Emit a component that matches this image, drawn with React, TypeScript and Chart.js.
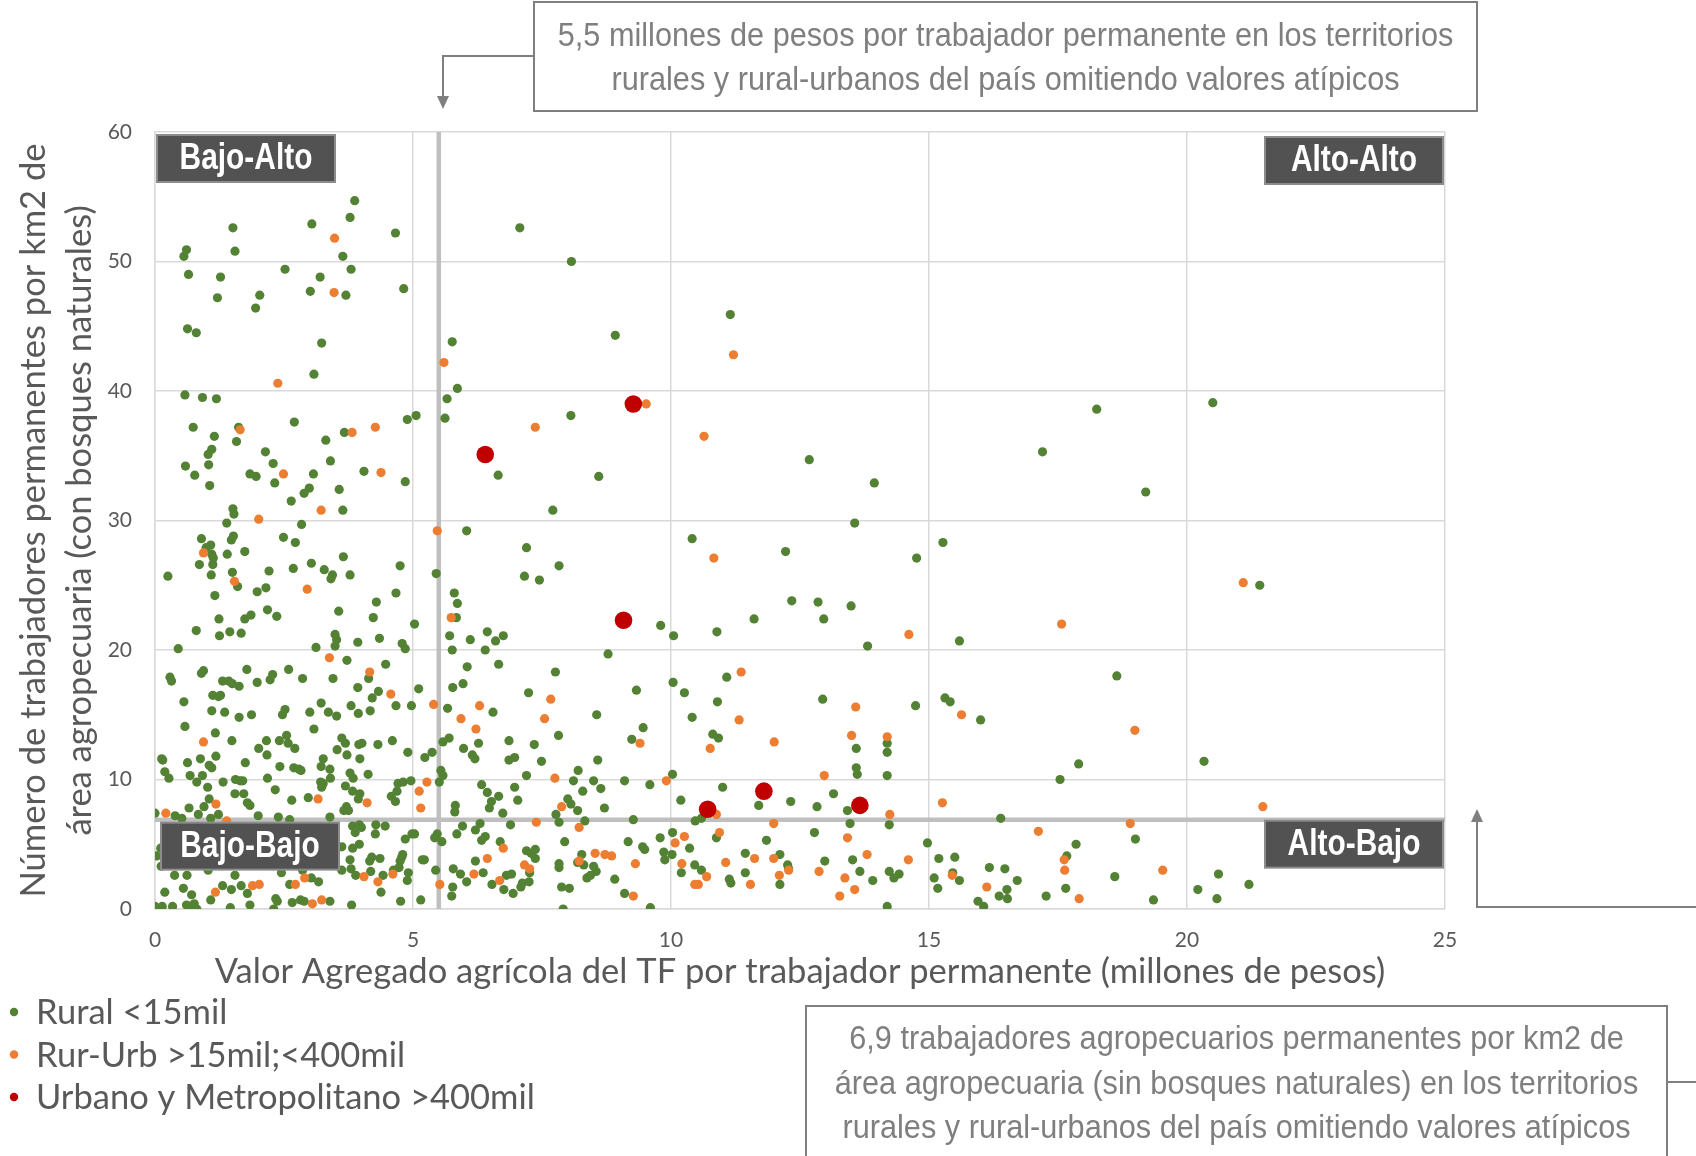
import React, { useEffect, useRef } from 'react';
import { Chart, registerables } from 'chart.js';

Chart.register(...registerables);

// ---------------- DATA ----------------
const seriesLabels = ['Rural <15mil', 'Rur-Urb >15mil;<400mil', 'Urbano y Metropolitano >400mil'];
const seriesColors = ['#548235', '#ED7D31', '#C00000'];

const xTitle = 'Valor Agregado agrícola del TF por trabajador permanente (millones de pesos)';
const yTitle = ['Número de trabajadores permanentes por km2 de', 'área agropecuaria (con bosques naturales)'];

const xMin = 0, xMax = 25, xStep = 5;
const yMin = 0, yMax = 60, yStep = 10;

const thresholdX = 5.5;
const thresholdY = 6.9;

const quadrantLabels = ['Bajo-Alto', 'Alto-Alto', 'Bajo-Bajo', 'Alto-Bajo'];

const noteTop = [
  '5,5 millones de pesos por trabajador permanente en los territorios',
  'rurales y rural-urbanos del país omitiendo valores atípicos',
];
const noteBottom = [
  '6,9 trabajadores agropecuarios permanentes por km2 de',
  'área agropecuaria (sin bosques naturales) en los territorios',
  'rurales y rural-urbanos del país omitiendo valores atípicos',
];

const ruralPoints: [number, number][] = [
  [3.87,54.7],[3.78,53.4],[1.51,52.6],[3.04,52.9],[4.66,52.2],[0.61,50.9],[0.56,50.4],[1.55,50.8],[3.64,50.4],[0.65,49.0],
  [1.27,48.8],[2.52,49.4],[3.20,48.8],[3.80,49.4],[3.01,47.7],[3.70,47.4],[1.21,47.2],[2.03,47.4],[1.95,46.4],[4.82,47.9],
  [0.63,44.8],[0.80,44.5],[3.23,43.7],[3.08,41.3],[0.58,39.7],[0.92,39.5],[1.19,39.4],[0.74,37.2],[1.15,36.5],[1.58,36.1],
  [1.62,37.2],[1.10,35.5],[1.03,35.1],[1.04,34.3],[0.59,34.2],[0.77,33.5],[1.06,32.7],[2.14,35.3],[2.29,34.4],[1.84,33.6],
  [1.96,33.4],[2.32,32.9],[2.70,37.6],[3.31,36.2],[3.67,36.8],[3.40,34.6],[3.07,33.6],[2.99,32.5],[2.89,32.1],[3.57,32.4],
  [2.64,31.5],[4.05,33.8],[4.85,33.0],[4.89,37.8],[5.06,38.1],[3.64,30.8],[1.51,30.9],[1.53,30.5],[1.39,29.8],[2.84,29.7],
  [5.76,43.8],[5.86,40.2],[5.66,39.4],[5.62,37.9],[7.07,52.6],[8.07,50.0],[8.92,44.3],[8.06,38.1],[6.65,33.5],[8.60,33.4],
  [7.71,30.8],
  [11.15,45.9],[12.68,34.7],[13.94,32.9],[17.2,35.3],[18.25,38.6],[19.2,32.2],[20.5,39.1],
  [13.56,29.8],[10.41,28.6],[12.22,27.6],[15.27,28.3],[14.76,27.1],[12.34,23.8],[12.85,23.7],[13.49,23.4],[11.61,22.4],[12.96,22.4],
  [10.89,21.4],[13.81,20.3],[15.59,20.7],[21.41,25.0],[11.08,17.9],[10.90,16.0],[10.41,14.8],[12.94,16.2],[14.74,15.7],[15.31,16.3],
  [15.41,16.0],[16.0,14.6],[18.64,18.0],[10.81,13.5],[10.92,13.2],[13.59,12.4],[14.19,12.8],[14.19,12.1],[13.59,10.9],[13.61,10.4],
  [14.19,10.3],[17.9,11.2],[17.54,10.0],[20.33,11.4],[11.0,9.4],[12.32,8.3],[13.15,8.9],[11.7,8.0],[12.83,7.9],[13.42,7.6],
  [10.47,6.8],[10.59,7.0],[13.47,6.6],[14.23,6.5],[16.39,7.0],[10.88,5.5],[11.85,5.3],[12.78,5.9],[14.97,5.1],[19.0,5.4],
  [17.85,5.0],[10.36,4.7],[11.44,4.3],[12.11,4.2],[13.52,3.8],[12.98,3.7],[12.26,3.4],[12.28,3.1],[15.19,3.9],[15.5,4.0],
  [17.67,4.1],[10.46,3.4],[10.59,3.0],[11.44,2.8],[11.13,2.3],[11.16,2.0],[12.11,1.9],[13.66,2.9],[13.91,2.2],[14.23,2.9],
  [14.32,2.4],[14.42,2.7],[15.1,2.4],[15.46,2.8],[15.59,2.2],[16.17,3.2],[16.47,3.1],[16.71,2.2],[16.51,1.5],[16.36,1.0],
  [16.52,0.8],[15.95,0.6],[16.06,0.2],[15.17,1.6],[17.27,1.0],[17.65,1.6],[18.6,2.5],[19.35,0.7],[20.61,2.7],[20.21,1.5],
  [20.58,0.8],[21.2,1.9],[14.19,0.2],
  [6.04,29.2],[7.20,27.9],[7.83,26.5],[7.16,25.7],[7.45,25.4],[5.45,25.9],[5.80,24.4],[5.86,23.6],[5.84,22.5],[5.03,22.0],
  [5.71,21.1],[6.11,20.8],[6.44,21.4],[6.60,20.7],[6.75,21.1],[5.76,20.0],[6.40,20.0],[6.05,18.7],[6.66,18.9],[7.76,18.3],
  [8.78,19.7],[9.80,21.9],[10.05,21.1],[5.11,17.0],[5.77,17.1],[5.97,17.4],[7.24,16.7],[9.33,16.9],[10.04,17.5],[10.26,16.7],
  [5.67,15.5],[6.55,15.2],[8.56,15.0],
  [9.46,14.0],[9.24,13.1],[7.82,13.4],[7.35,12.7],[6.86,13.0],[6.27,12.8],[5.98,12.4],[5.58,12.9],[5.70,13.2],[5.37,12.1],
  [5.23,11.7],[6.15,11.9],[6.20,11.6],[6.86,11.5],[6.97,11.7],[7.49,11.4],[8.58,11.5],[8.20,10.7],[7.20,10.3],[5.54,10.7],
  [5.58,10.3],[5.51,9.8],[6.33,9.6],[6.44,9.0],[6.66,8.7],[6.97,9.4],[7.03,8.4],[6.52,8.3],[6.48,7.8],[5.82,8.0],
  [5.81,7.5],[6.74,7.4],[6.89,6.5],[6.30,6.6],[5.96,6.4],[6.21,6.1],[5.85,5.8],[5.47,5.8],[5.42,5.5],[5.56,5.2],
  [5.03,5.8],[6.40,5.6],[6.33,5.3],[6.69,5.2],[5.22,3.8],[5.44,3.0],[5.78,3.1],[5.92,2.7],[6.04,2.1],[6.21,3.7],
  [6.36,2.8],[6.53,1.9],[5.77,1.7],[5.75,1.0],[5.15,0.7],[6.76,1.5],[6.94,1.2],[6.81,2.6],[6.91,2.7],[7.09,1.7],
  [7.12,2.0],[7.25,2.1],[7.20,4.5],[7.29,4.3],[7.37,4.6],[7.37,3.9],[7.26,2.8],[7.77,7.3],[7.83,6.7],[8.00,8.5],
  [8.06,8.1],[8.19,7.6],[8.29,9.1],[8.11,9.9],[8.50,9.9],[8.64,9.3],[8.71,7.8],[8.33,6.8],[9.10,9.9],[9.59,9.6],
  [9.27,6.9],[10.03,10.4],[10.19,8.4],[7.94,5.2],[7.83,3.5],[7.83,3.2],[8.27,4.2],[8.19,3.6],[8.31,3.4],[8.50,3.3],
  [8.55,2.9],[8.44,2.6],[8.37,2.4],[8.91,2.3],[9.17,5.2],[9.45,4.8],[9.49,4.6],[9.79,5.5],[10.03,5.9],[9.86,4.4],
  [9.88,3.8],[10.02,4.2],[10.20,2.8],[7.88,1.7],[8.03,1.6],[7.91,0.0],[9.10,1.2],[9.60,0.1],
  [0.90,28.6],[1.52,28.8],[1.48,28.5],[2.49,28.7],[2.72,28.3],[1.08,28.1],[0.99,27.9],[1.10,27.4],[1.13,27.1],[1.40,27.4],
  [1.74,27.6],[0.86,26.6],[1.12,26.6],[1.09,25.8],[1.50,26.0],[1.60,24.9],[0.25,25.7],[1.16,24.2],[2.21,26.1],[2.68,26.3],
  [3.03,26.7],[3.28,26.2],[3.44,25.8],[3.41,25.5],[3.65,27.2],[3.78,25.8],[4.75,26.5],[4.67,24.4],[1.98,24.5],[2.15,24.8],
  [4.29,23.7],[3.56,23.0],[4.23,22.5],[2.18,23.1],[2.36,22.6],[1.86,22.7],[1.74,22.4],[1.24,22.4],[0.80,21.5],[1.25,21.1],
  [1.45,21.4],[1.67,21.3],[0.45,20.1],[3.12,20.2],[3.49,21.2],[3.52,20.8],[3.49,20.3],[3.93,20.6],[4.35,20.9],[4.79,20.5],
  [4.85,20.1],[3.72,19.2],[4.47,18.9],[0.29,17.9],[0.32,17.6],[0.90,18.2],[0.94,18.4],[1.78,18.5],[1.31,17.6],[1.43,17.6],
  [1.50,17.4],[1.63,17.2],[1.98,17.5],[2.23,17.7],[2.28,18.1],[2.59,18.5],[2.86,17.8],[3.45,17.8],[4.14,17.8],[3.93,17.1],
  [4.33,16.8],[4.21,16.3],[0.56,16.0],[1.12,16.5],[1.23,16.4],[1.27,16.5],[1.10,15.3],[1.35,15.2],[1.63,14.8],[1.87,15.0],
  [2.52,15.4],[2.47,15.0],[3.00,15.2],[3.22,15.9],[3.36,15.2],[3.52,14.9],[3.80,15.7],[3.94,15.1],[4.17,15.3],[4.67,15.7],
  [4.97,15.7],
  [0.58,14.1],[1.17,13.6],[1.49,13.0],[2.01,12.4],[2.16,13.0],[2.17,11.9],[2.41,13.0],[2.55,13.4],[2.58,12.8],[2.71,12.4],
  [3.08,13.9],[3.62,13.2],[3.69,12.8],[3.95,12.7],[4.01,12.8],[4.32,12.7],[4.60,13.0],[4.90,12.1],[3.53,12.3],[3.72,11.9],
  [3.97,11.6],[3.26,11.6],[4.13,10.4],[3.78,10.5],[3.84,10.1],[3.22,11.0],[3.39,10.8],[3.40,10.1],[2.69,10.9],[2.79,10.8],
  [2.83,10.7],[2.42,11.0],[1.75,11.3],[1.05,11.1],[1.10,10.9],[0.88,11.6],[0.63,11.3],[0.13,11.6],[0.15,11.5],[0.19,10.6],
  [0.27,10.1],[0.68,10.3],[0.81,9.8],[0.92,10.3],[1.18,11.8],[1.32,9.8],[1.56,10.0],[1.65,9.9],[1.70,9.9],[1.02,9.4],
  [1.55,8.9],[1.72,8.9],[1.05,8.5],[1.79,8.2],[1.84,8.0],[0.66,7.8],[0.95,7.9],[0.84,7.3],[0.00,7.4],[0.39,7.2],
  [0.52,7.0],[1.23,7.3],[1.08,7.0],[2.00,7.2],[2.39,7.1],[2.18,10.1],[2.33,9.2],[2.65,8.4],[2.97,8.6],[3.21,9.8],
  [3.23,9.4],[3.26,9.7],[3.39,7.1],[3.69,9.5],[3.83,9.1],[3.97,8.9],[3.94,8.5],[3.71,7.9],[3.75,7.6],[3.66,7.6],
  [4.58,8.7],[4.66,8.3],[4.71,9.7],[4.81,9.8],[4.69,9.1],[4.96,9.9],[2.61,6.9],
  [3.83,6.4],[3.88,5.9],[3.96,6.5],[4.00,6.3],[4.28,6.5],[4.27,5.8],[4.46,6.4],[4.85,5.4],[4.98,5.8],[3.96,5.0],
  [3.83,4.7],[3.62,4.8],[3.78,3.8],[3.80,3.1],[3.62,3.0],[3.89,2.6],[4.20,4.0],[4.16,3.7],[4.36,3.9],[4.18,2.9],
  [4.42,2.6],[4.38,1.3],[4.78,4.0],[4.80,4.2],[4.75,3.7],[4.62,3.0],[4.73,3.2],[4.91,2.8],[4.89,2.2],[5.18,3.8],
  [4.76,0.6],[3.81,0.3],[3.39,0.6],[3.03,2.4],[2.86,3.0],[3.17,2.1],[2.45,2.8],[2.61,1.9],[2.34,0.8],[2.37,0.6],
  [2.66,0.5],[2.82,0.7],[2.89,0.6],[2.30,0.0],[1.84,0.3],[1.79,1.2],[1.67,1.8],[1.48,1.5],[1.31,1.8],[1.55,2.6],
  [1.46,0.1],[1.08,0.7],[1.03,3.0],[0.62,2.6],[0.38,2.6],[0.71,1.1],[0.55,1.6],[0.19,1.3],[0.00,0.2],[0.14,0.2],
  [0.34,0.2],[0.61,0.3],[0.68,0.2],[0.76,0.4],[0.81,0.0],[0.12,3.3],[0.03,4.1],[0.11,4.7],
];

const rurUrbPoints: [number, number][] = [
  [3.48,51.8],[3.47,47.6],[2.38,40.6],[1.65,37.0],[3.82,36.8],[4.27,37.2],[2.49,33.6],[4.38,33.7],[3.22,30.8],[2.01,30.1],
  [5.60,42.2],[7.37,37.2],[9.52,39.0],[10.64,36.5],[11.21,42.8],[10.83,27.1],
  [21.09,25.2],[17.57,22.0],[14.61,21.2],[11.36,18.3],[13.58,15.6],[15.63,15.0],[11.32,14.6],[18.99,13.8],[13.5,13.4],[14.19,13.3],
  [10.76,12.4],[12.0,12.9],[12.97,10.3],[15.26,8.2],[21.47,7.9],[10.88,7.3],[14.24,7.3],[11.99,6.6],[18.9,6.6],[10.94,5.9],
  [13.42,5.5],[17.12,6.0],[13.8,4.2],[11.62,3.9],[11.99,3.9],[11.06,3.6],[14.6,3.8],[17.62,3.8],[12.28,3.0],[12.1,2.6],
  [12.87,2.9],[17.63,3.0],[19.53,3.0],[10.69,2.5],[10.53,1.9],[11.54,1.9],[13.37,2.4],[13.56,1.5],[13.27,1.0],[15.45,2.6],
  [16.12,1.7],[17.91,0.8],
  [5.47,29.2],[5.74,22.5],[7.67,16.2],[5.40,15.8],[6.29,15.7],[5.93,14.7],[7.55,14.7],
  [6.22,13.9],[9.40,12.8],[5.27,9.8],[5.12,9.1],[5.15,7.8],[7.75,10.1],[9.91,9.9],[7.88,7.9],[7.39,6.7],[8.22,6.3],
  [6.75,4.7],[6.44,3.9],[6.18,2.7],[6.68,2.2],[7.16,3.4],[7.26,3.1],[8.22,3.7],[8.53,4.3],[8.72,4.2],[8.85,4.1],
  [9.31,3.5],[10.08,5.1],[10.26,5.6],[10.21,3.5],[5.52,1.9],[9.27,1.0],[10.46,1.9],
  [0.94,27.5],[1.54,25.3],[2.95,24.7],[3.38,19.4],[4.16,18.3],[4.57,16.6],
  [0.94,12.9],[1.18,8.1],[0.21,7.4],[1.39,6.8],[3.16,8.5],[4.11,8.2],[2.90,2.4],[2.72,1.9],[3.05,0.4],[3.23,0.7],
  [4.05,2.5],[4.32,2.1],[4.61,2.7],[1.17,1.3],[1.89,1.8],[2.02,1.9],
];

const urbanPoints: [number, number][] = [
  [6.40,35.1],[9.27,39.0],[9.08,22.3],[10.71,7.7],[11.8,9.1],[13.66,8.0],
];

// ---------------- HELPERS ----------------
const toXY = (pts: [number, number][]) => pts.map(([x, y]) => ({ x, y }));

function condensedText(ctx: CanvasRenderingContext2D, text: string, cx: number, cy: number, font: string, sx: number, color: string) {
  ctx.save();
  ctx.font = font;
  ctx.fillStyle = color;
  ctx.textAlign = 'center';
  ctx.textBaseline = 'middle';
  ctx.translate(cx, cy);
  ctx.scale(sx, 1);
  ctx.fillText(text, 0, 0);
  ctx.restore();
}

function arrowHead(ctx: CanvasRenderingContext2D, tipX: number, tipY: number, dir: 'up' | 'down', color: string) {
  ctx.save();
  ctx.fillStyle = color;
  ctx.beginPath();
  const len = 13, half = 6;
  if (dir === 'down') {
    ctx.moveTo(tipX, tipY);
    ctx.lineTo(tipX - half, tipY - len);
    ctx.lineTo(tipX + half, tipY - len);
  } else {
    ctx.moveTo(tipX, tipY);
    ctx.lineTo(tipX - half, tipY + len);
    ctx.lineTo(tipX + half, tipY + len);
  }
  ctx.closePath();
  ctx.fill();
  ctx.restore();
}

const NOTE_FONT = '33px "Liberation Sans", Arial, sans-serif';
const NOTE_SX = 0.93;

const overlayPlugin = {
  id: 'overlays',
  beforeDatasetsDraw(chart: any) {
    const { ctx, chartArea: ca, scales } = chart;
    const px = scales.x.getPixelForValue(thresholdX);
    const py = scales.y.getPixelForValue(thresholdY);
    ctx.save();
    ctx.strokeStyle = '#BFBFBF';
    ctx.lineWidth = 4.5;
    ctx.beginPath();
    ctx.moveTo(px, ca.top);
    ctx.lineTo(px, ca.bottom);
    ctx.moveTo(ca.left, py);
    ctx.lineTo(ca.right, py);
    ctx.stroke();
    ctx.restore();
  },
  afterDatasetsDraw(chart: any) {
    const { ctx, chartArea: ca, scales } = chart;
    const py = scales.y.getPixelForValue(thresholdY);
    const w = 178, h = 47;
    const boxes = [
      { label: quadrantLabels[0], x: ca.left + 2, y: ca.top + 3 },
      { label: quadrantLabels[1], x: ca.right - 2 - w, y: ca.top + 5 },
      { label: quadrantLabels[2], x: ca.left + 6, y: py + 3 },
      { label: quadrantLabels[3], x: ca.right - 2 - w, y: py + 1 },
    ];
    boxes.forEach((b) => {
      ctx.save();
      ctx.fillStyle = '#525252';
      ctx.fillRect(b.x, b.y, w, h);
      ctx.strokeStyle = '#8C8C8C';
      ctx.lineWidth = 2;
      ctx.strokeRect(b.x, b.y, w, h);
      ctx.restore();
      condensedText(ctx, b.label, b.x + w / 2, b.y + h / 2 + 1, 'bold 36px "Liberation Sans", Arial, sans-serif', 0.83, '#FFFFFF');
    });
  },
  afterDraw(chart: any) {
    const { ctx } = chart;
    const grey = '#7F7F7F';
    // top note box
    ctx.save();
    ctx.fillStyle = '#FFFFFF';
    ctx.fillRect(534, 2, 943, 109);
    ctx.strokeStyle = grey;
    ctx.lineWidth = 2;
    ctx.strokeRect(534, 2, 943, 109);
    ctx.beginPath();
    ctx.moveTo(534, 56);
    ctx.lineTo(443, 56);
    ctx.lineTo(443, 98);
    ctx.stroke();
    ctx.restore();
    arrowHead(ctx, 443, 109, 'down', grey);
    noteTop.forEach((t, i) => condensedText(ctx, t, 1005.5, 37 + i * 44, NOTE_FONT, NOTE_SX, grey));

    // bottom note box
    ctx.save();
    ctx.fillStyle = '#FFFFFF';
    ctx.fillRect(806, 1006, 861, 170);
    ctx.strokeStyle = grey;
    ctx.lineWidth = 2;
    ctx.strokeRect(806, 1006, 861, 170);
    ctx.beginPath();
    ctx.moveTo(1667, 1082);
    ctx.lineTo(1696, 1082);
    ctx.moveTo(1696, 907);
    ctx.lineTo(1477, 907);
    ctx.lineTo(1477, 821);
    ctx.stroke();
    ctx.restore();
    arrowHead(ctx, 1477, 809, 'up', grey);
    noteBottom.forEach((t, i) => condensedText(ctx, t, 1236.5, 1040 + i * 44.5, NOTE_FONT, NOTE_SX, grey));

    // legend
    chart.data.datasets.forEach((ds: any, i: number) => {
      const y = 1012 + i * 42.5;
      ctx.save();
      ctx.fillStyle = ds.backgroundColor;
      ctx.beginPath();
      ctx.arc(14, y, 4.2, 0, Math.PI * 2);
      ctx.fill();
      ctx.font = '34.5px Lato, sans-serif';
      ctx.fillStyle = '#595959';
      ctx.textAlign = 'left';
      ctx.textBaseline = 'middle';
      ctx.fillText(ds.label, 36, y + 1);
      ctx.restore();
    });
  },
};

export default function App() {
  const canvasRef = useRef<HTMLCanvasElement | null>(null);

  useEffect(() => {
    document.body.style.margin = '0';
    const canvas = canvasRef.current;
    if (!canvas) return;
    const chart = new Chart(canvas, {
      type: 'scatter',
      data: {
        datasets: [
          { label: seriesLabels[0], data: toXY(ruralPoints), backgroundColor: seriesColors[0], borderWidth: 0, pointRadius: 4.6, pointHoverRadius: 4.6, order: 3 },
          { label: seriesLabels[1], data: toXY(rurUrbPoints), backgroundColor: seriesColors[1], borderWidth: 0, pointRadius: 4.6, pointHoverRadius: 4.6, order: 2 },
          { label: seriesLabels[2], data: toXY(urbanPoints), backgroundColor: seriesColors[2], borderWidth: 0, pointRadius: 8.8, pointHoverRadius: 8.8, order: 1 },
        ],
      },
      options: {
        animation: false,
        responsive: false,
        devicePixelRatio: 1,
        events: [],
        layout: { padding: { left: 0, right: 251, top: 132, bottom: 163 } },
        plugins: { legend: { display: false }, tooltip: { enabled: false } },
        scales: {
          x: {
            type: 'linear',
            min: xMin,
            max: xMax,
            ticks: { stepSize: xStep, color: '#595959', font: { family: 'Lato', size: 21 }, padding: 19 },
            grid: { color: '#D9D9D9', lineWidth: 1.5, drawTicks: false },
            border: { color: '#D9D9D9', width: 1.5 },
            title: { display: true, text: xTitle, color: '#595959', font: { family: 'Lato', size: 34.5 }, padding: { top: 0, bottom: 0 } },
            afterFit: (s: any) => { s.height = 84; },
          },
          y: {
            type: 'linear',
            min: yMin,
            max: yMax,
            ticks: { stepSize: yStep, color: '#595959', font: { family: 'Lato', size: 21 }, padding: 23 },
            grid: { color: '#D9D9D9', lineWidth: 1.5, drawTicks: false },
            border: { color: '#D9D9D9', width: 1.5 },
            title: { display: true, text: yTitle, color: '#595959', font: { family: 'Lato', size: 34.5, lineHeight: 1.333 }, padding: { top: 11, bottom: 0 } },
            afterFit: (s: any) => { s.width = 155; },
          },
        },
      },
      plugins: [overlayPlugin],
    } as any);
    return () => chart.destroy();
  }, []);

  return (
    <div style={{ width: 1696, height: 1156, position: 'relative', background: '#FFFFFF' }}>
      <canvas ref={canvasRef} width={1696} height={1156} style={{ display: 'block', width: 1696, height: 1156 }} />
    </div>
  );
}
